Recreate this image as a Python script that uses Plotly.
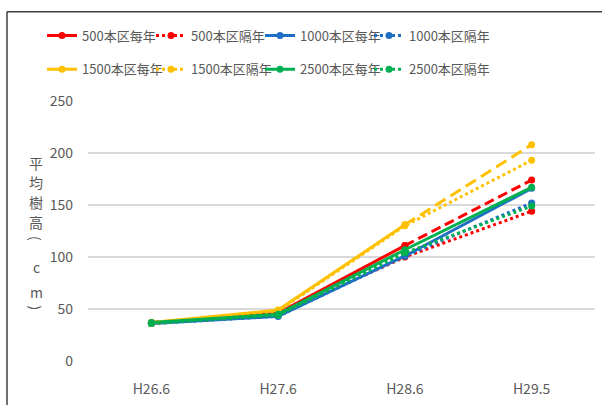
import plotly.graph_objects as go

categories = ["H26.6", "H27.6", "H28.6", "H29.5"]

s500_every = [37, 46, 111, 174]
s500_alt = [36, 45, 100, 144]
s1000_every = [36, 43, 101, 166]
s1000_alt = [36, 43, 101, 152]
s1500_every = [37, 49, 131, 208]
s1500_alt = [36, 48, 130, 193]
s2500_every = [37, 45, 107, 167]
s2500_alt = [36, 44, 104, 149]

names = ["500本区每年", "500本区隔年", "1000本区每年", "1000本区隔年",
         "1500本区每年", "1500本区隔年", "2500本区每年", "2500本区隔年"]

RED = "#FF0000"
BLUE = "#1F6FC5"
YEL = "#FFC000"
GRN = "#00B050"

W, H = 602, 405
L, R, T, B = 88, 7, 101, 42
PW, PH = W - L - R, H - T - B


def px(x):
    return (x - L) / PW


def py(y):
    return (H - B - y) / PH


FONT = "Noto Sans CJK JP, Noto Sans, sans-serif"
GRAY = "#595959"

fig = go.Figure()


def add(vals, name, color, dash, legend, last_dash=None):
    mk = dict(size=7, color=color)
    if last_dash is None:
        fig.add_trace(go.Scatter(x=categories, y=vals, name=name, mode="lines+markers",
                                 line=dict(color=color, width=3, dash=dash), marker=mk,
                                 legend=legend))
    else:
        fig.add_trace(go.Scatter(x=categories[:3], y=vals[:3], name=name, mode="lines+markers",
                                 line=dict(color=color, width=3, dash=dash), marker=mk,
                                 legend=legend))
        fig.add_trace(go.Scatter(x=categories[2:], y=vals[2:], name=name, mode="lines+markers",
                                 line=dict(color=color, width=3, dash=last_dash), marker=mk,
                                 showlegend=False, legend=legend))


def spacer(legend):
    # invisible legend entry so the last real entry's text is not clipped
    fig.add_trace(go.Scatter(x=[None], y=[None], name=" ", mode="lines",
                             line=dict(color="rgba(0,0,0,0)", width=0),
                             hoverinfo="skip", legend=legend))


add(s500_every, names[0], RED, "solid", "legend", last_dash="10px,5px")
add(s500_alt, names[1], RED, "dot", "legend")
add(s1000_every, names[2], BLUE, "solid", "legend")
add(s1000_alt, names[3], BLUE, "dot", "legend")
spacer("legend")
add(s1500_every, names[4], YEL, "solid", "legend2", last_dash="12px,6px")
add(s1500_alt, names[5], YEL, "dot", "legend2")
add(s2500_every, names[6], GRN, "solid", "legend2")
add(s2500_alt, names[7], GRN, "dot", "legend2")
spacer("legend2")

legend_common = dict(orientation="h", xanchor="left", yanchor="middle",
                     font=dict(family=FONT, size=13, color=GRAY),
                     bgcolor="rgba(0,0,0,0)", entrywidth=64, entrywidthmode="pixels",
                     itemwidth=30, tracegroupgap=0)

annotations = []
ychars = [("平", 163, 0), ("均", 183, 0), ("樹", 203, 0), ("高", 223, 0), ("(", 239, 90),
          ("c", 268, 0), ("m", 293, 0), (")", 309, 90)]
for ch, yy, ang in ychars:
    annotations.append(dict(text=ch, x=px(36), y=py(yy), xref="paper", yref="paper",
                            showarrow=False, xanchor="center", yanchor="middle",
                            textangle=ang,
                            font=dict(family=FONT, size=14, color=GRAY)))

shapes = [
    dict(type="line", xref="paper", yref="paper", x0=px(7), x1=px(610), y0=py(11), y1=py(11),
         line=dict(color="#404040", width=1.5)),
    dict(type="line", xref="paper", yref="paper", x0=px(7), x1=px(7), y0=py(11), y1=py(420),
         line=dict(color="#404040", width=1.5)),
]

fig.update_layout(
    width=W, height=H,
    margin=dict(l=L, r=R, t=T, b=B, pad=0),
    paper_bgcolor="white", plot_bgcolor="white",
    font=dict(family=FONT, color=GRAY),
    legend=dict(x=px(42), y=py(35), **legend_common),
    legend2=dict(x=px(42), y=py(69), **legend_common),
    xaxis=dict(type="category", range=[-0.5, 3.5], showgrid=False, showline=False,
               zeroline=False, ticks="", tickfont=dict(family=FONT, size=14, color=GRAY),
               ticklabelstandoff=18, fixedrange=True),
    yaxis=dict(range=[0, 250], dtick=50, showgrid=True, gridcolor="#D9D9D9", gridwidth=1.5,
               zeroline=False, showline=False, ticks="",
               tickfont=dict(family=FONT, size=14, color=GRAY),
               ticklabelstandoff=14, fixedrange=True),
    annotations=annotations,
    shapes=shapes,
)

fig.write_html("out.html")
